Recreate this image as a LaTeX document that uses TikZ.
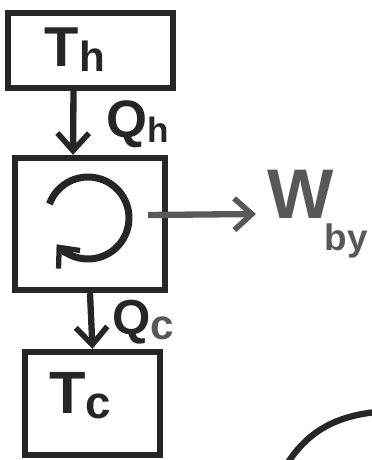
\documentclass[tikz,border=0pt]{standalone}
\usepackage{fontspec}
\setmainfont{Liberation Sans}
\usepackage{tikz}
\usetikzlibrary{arrows.meta, positioning}
\usepackage{xcolor}
\definecolor{ink}{RGB}{38, 38, 38}
\definecolor{pencil}{RGB}{88, 88, 88}

% letter with a lowered subscript, hand-lettered look
\newcommand{\sublbl}[5][-3pt]{{\fontsize{#4}{#4}\selectfont\bfseries #2}\raisebox{#1}{\fontsize{#5}{#5}\selectfont\bfseries #3}}

\begin{document}
\begin{tikzpicture}[x=0.02cm, y=-0.02cm, line width=3.6pt, ink,
  every node/.style={inner sep=0pt},
  flow/.style={-{Straight Barb[length=10pt, width=18pt, line width=3.2pt]}}]
\useasboundingbox (0,0) rectangle (372,460);

% reservoirs and engine
\node[draw, minimum width=3.3cm, minimum height=1.5cm] (hot) at (90.5,50.5) {};
\node[draw, minimum width=3.0cm, minimum height=2.64cm] (eng) at (90,224) {};
\node[draw, minimum width=2.7cm, minimum height=2.06cm] (cold) at (92.5,403.5) {};

\node (thlbl) at (75,50) {\sublbl{T}{h}{32}{24}};
\node (tclbl) at (80,396) {\sublbl{T}{c}{34}{26}};

% heat flows
\draw[flow] ([xshift=-0.34cm]hot.south) -- ([xshift=-0.34cm]eng.north);
\node (qh) at (138,124) {\sublbl{Q}{h}{30}{20}};
\draw[flow] (eng.south) -- (cold.north);
\node (qc) at (143,322) {\sublbl{Q}{\textcolor{pencil}{c}}{28}{24}};

% cycle symbol
\draw[line width=4pt, -{Straight Barb[length=9pt, width=16pt, line width=3pt]}]
  (88,218) ++(200:41) arc[start angle=200, end angle=500, radius=41];

% work out
\coordinate (wtip) at (256,214);
\draw[flow, pencil] ([xshift=-0.4cm, yshift=0.18cm]eng.east) -- (wtip);
\node[pencil, anchor=west] (wby) at (264,214) {\sublbl[-18pt]{W}{\kern-5pt by}{40}{21}};

% next sketch, cut off at the corner
\draw (287,464) .. controls (310,428) and (340,416) .. (376,412);
\end{tikzpicture}
\end{document}
